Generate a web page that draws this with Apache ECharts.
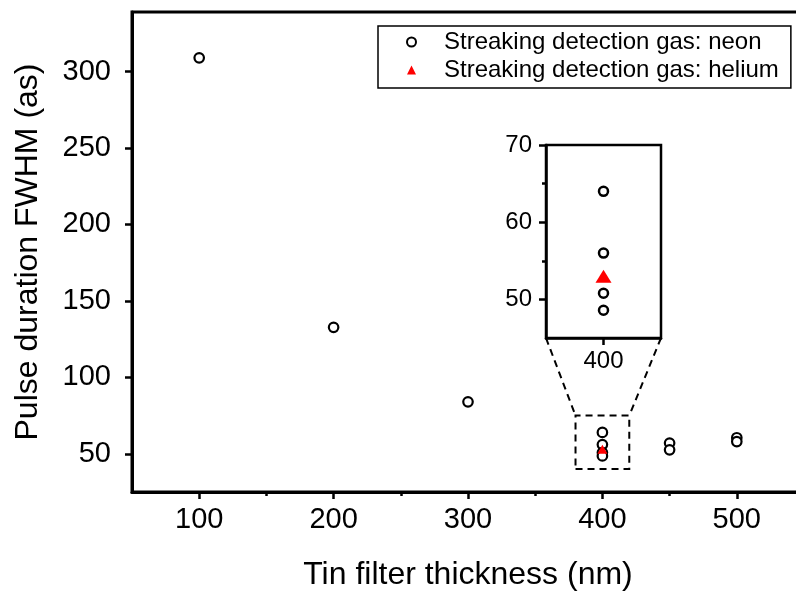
<!DOCTYPE html>
<html>
<head>
<meta charset="utf-8">
<script src="https://cdn.jsdelivr.net/npm/echarts@6/dist/echarts.min.js"></script>
<style>
html,body{margin:0;padding:0;background:#fff;}
#c{width:796px;height:595px;}
</style>
</head>
<body>
<div id="c"></div>
<script>
// ---- data ----
const neonX = [100, 200, 300, 400, 400, 400, 400, 450, 450, 500, 500];
const neonY = [309, 132.7, 84, 64, 56, 50.8, 48.6, 57, 52.6, 60.5, 58];
const heliumX = [400];
const heliumY = [53];
const xMajorTicks = [100, 200, 300, 400, 500];
const xMinorTicks = [150, 250, 350, 450, 550];
const yMajorTicks = [50, 100, 150, 200, 250, 300];
const insetXTicks = [400];
const insetYMajorTicks = [50, 60, 70];
const insetYMinorTicks = [55, 65];
const zoomBoxX = [380, 420];
const zoomBoxY = [40, 75];
const insetYRange = [45, 70];
const legendNames = ['Streaking detection gas: neon', 'Streaking detection gas: helium'];

const FONT = "'Liberation Sans', Arial, sans-serif";
const neonData = neonX.map((x, i) => [x, neonY[i]]);
const heliumData = heliumX.map((x, i) => [x, heliumY[i]]);

const chart = echarts.init(document.getElementById('c'));
const black = '#000';

const option = {
  backgroundColor: '#fff',
  textStyle: { fontFamily: FONT, color: black },
  animation: false,
  grid: [
    { left: 132, top: 12, width: 672, height: 480, show: true, borderColor: black, borderWidth: 3, containLabel: false, outerBoundsMode: 'none' },
    { left: 546, top: 145, width: 115, height: 193, show: true, borderColor: black, borderWidth: 2.5, backgroundColor: '#fff', containLabel: false, outerBoundsMode: 'none' }
  ],
  legend: {
    data: [
      { name: legendNames[0], icon: 'circle' },
      { name: legendNames[1], icon: 'triangle' }
    ],
    orient: 'vertical',
    left: 378, top: 26,
    padding: [4, 12, 6, 28],
    itemGap: 4,
    itemWidth: 9,
    itemHeight: 9,
    symbolKeepAspect: true,
    borderColor: black,
    borderWidth: 1.5,
    backgroundColor: '#fff',
    textStyle: { fontSize: 24, color: black, fontFamily: FONT, padding: [0, 0, 0, 23] }
  },
  xAxis: [
    {
      gridIndex: 0, type: 'value', min: 50, max: 550, position: 'bottom',
      name: 'Tin filter thickness (nm)', nameLocation: 'middle', nameGap: 67,
      nameTextStyle: { fontSize: 32, color: black, fontFamily: FONT },
      axisLine: { show: true, onZero: false, lineStyle: { color: black, width: 3 } },
      axisTick: { show: true, customValues: xMajorTicks, length: 7, lineStyle: { color: black, width: 2.5 } },
      axisLabel: { customValues: xMajorTicks, fontSize: 29, margin: 13, color: black, fontFamily: FONT },
      splitLine: { show: false }
    },
    {
      gridIndex: 0, type: 'value', min: 50, max: 550, position: 'bottom',
      axisLine: { show: false },
      axisTick: { show: true, customValues: xMinorTicks, length: 4, lineStyle: { color: black, width: 2.5 } },
      axisLabel: { show: false },
      splitLine: { show: false }
    },
    {
      gridIndex: 1, type: 'value', min: zoomBoxX[0], max: zoomBoxX[1], position: 'bottom',
      axisLine: { show: true, onZero: false, lineStyle: { color: black, width: 2.5 } },
      axisTick: { show: true, customValues: insetXTicks, length: 7, lineStyle: { color: black, width: 2.5 } },
      axisLabel: { customValues: insetXTicks, fontSize: 24, margin: 11, color: black, fontFamily: FONT },
      splitLine: { show: false }
    }
  ],
  yAxis: [
    {
      gridIndex: 0, type: 'value', min: 25, max: 339, position: 'left',
      name: 'Pulse duration FWHM (as)', nameLocation: 'middle', nameGap: 88,
      nameTextStyle: { fontSize: 32, color: black, fontFamily: FONT },
      axisLine: { show: true, onZero: false, lineStyle: { color: black, width: 3 } },
      axisTick: { show: true, customValues: yMajorTicks, length: 7, lineStyle: { color: black, width: 2.5 } },
      axisLabel: { customValues: yMajorTicks, fontSize: 29, margin: 21, color: black, fontFamily: FONT },
      splitLine: { show: false }
    },
    {
      gridIndex: 1, type: 'value', min: insetYRange[0], max: insetYRange[1], position: 'left',
      axisLine: { show: true, onZero: false, lineStyle: { color: black, width: 2.5 } },
      axisTick: { show: true, customValues: insetYMajorTicks, length: 7, lineStyle: { color: black, width: 2.5 } },
      axisLabel: { customValues: insetYMajorTicks, fontSize: 24, margin: 14, color: black, fontFamily: FONT },
      splitLine: { show: false }
    },
    {
      gridIndex: 1, type: 'value', min: insetYRange[0], max: insetYRange[1], position: 'left',
      axisLine: { show: false },
      axisTick: { show: true, customValues: insetYMinorTicks, length: 4, lineStyle: { color: black, width: 2.5 } },
      axisLabel: { show: false },
      splitLine: { show: false }
    }
  ],
  series: [
    {
      name: legendNames[0], type: 'scatter', xAxisIndex: 0, yAxisIndex: 0,
      data: neonData, symbol: 'circle', symbolSize: 9.5,
      itemStyle: { color: '#fff', borderColor: black, borderWidth: 2.2, opacity: 1 },
      z: 3,
      markArea: {
        silent: true,
        itemStyle: { color: 'rgba(0,0,0,0)', borderColor: black, borderWidth: 2, borderType: [7, 5] },
        data: [[{ coord: [zoomBoxX[0], zoomBoxY[0]] }, { coord: [zoomBoxX[1], zoomBoxY[1]] }]]
      }
    },
    {
      name: legendNames[1], type: 'scatter', xAxisIndex: 0, yAxisIndex: 0,
      data: heliumData, symbol: 'triangle', symbolSize: [10, 9], symbolKeepAspect: true,
      itemStyle: { color: '#ff0000', opacity: 1 }, z: 4
    },
    {
      name: legendNames[0], type: 'scatter', xAxisIndex: 2, yAxisIndex: 1,
      data: neonData, symbol: 'circle', symbolSize: 9, clip: true,
      itemStyle: { color: '#fff', borderColor: black, borderWidth: 2.5, opacity: 1 }, z: 5
    },
    {
      name: legendNames[1], type: 'scatter', xAxisIndex: 2, yAxisIndex: 1,
      data: heliumData, symbol: 'triangle', symbolSize: [16, 13], clip: true,
      itemStyle: { color: '#ff0000', opacity: 1 }, z: 6
    }
  ]
};
chart.setOption(option);

// dashed connectors from inset bottom corners to zoom box top corners
const insetBL = chart.convertToPixel({ xAxisIndex: 2, yAxisIndex: 1 }, [zoomBoxX[0], insetYRange[0]]);
const insetBR = chart.convertToPixel({ xAxisIndex: 2, yAxisIndex: 1 }, [zoomBoxX[1], insetYRange[0]]);
const boxTL = chart.convertToPixel({ xAxisIndex: 0, yAxisIndex: 0 }, [zoomBoxX[0], zoomBoxY[1]]);
const boxTR = chart.convertToPixel({ xAxisIndex: 0, yAxisIndex: 0 }, [zoomBoxX[1], zoomBoxY[1]]);
const dashStyle = { stroke: black, lineWidth: 2, lineDash: [7, 5] };
chart.setOption({
  graphic: [
    { type: 'line', shape: { x1: insetBL[0], y1: insetBL[1], x2: boxTL[0], y2: boxTL[1] }, style: dashStyle, z: 10 },
    { type: 'line', shape: { x1: insetBR[0], y1: insetBR[1], x2: boxTR[0], y2: boxTR[1] }, style: dashStyle, z: 10 }
  ]
});
</script>
</body>
</html>
